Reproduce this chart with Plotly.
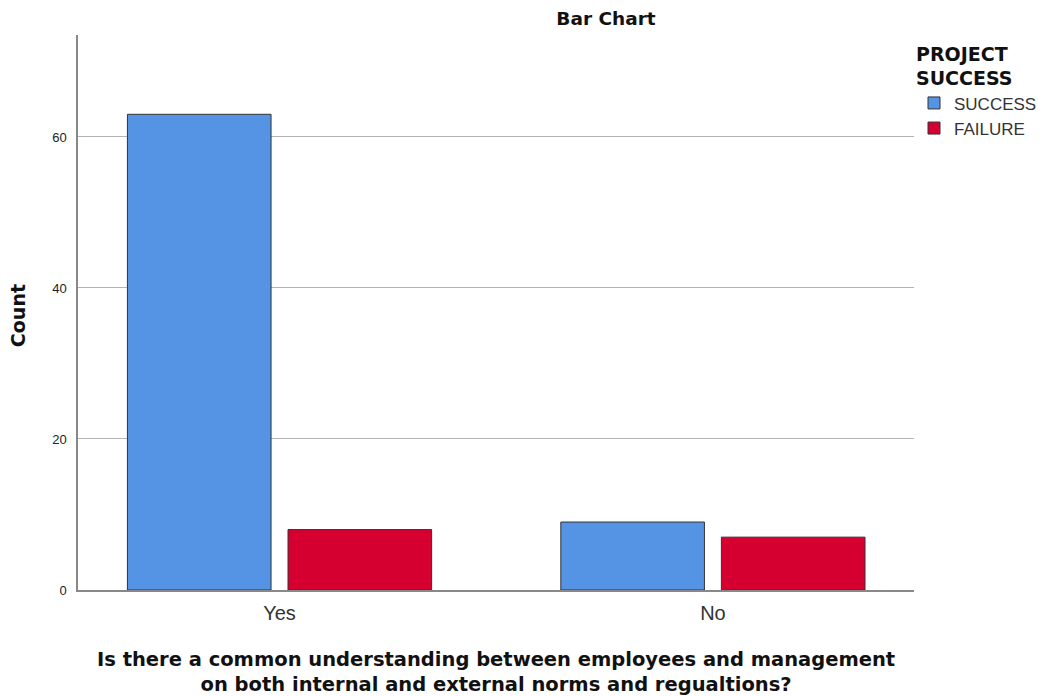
import plotly.graph_objects as go

categories = ["Yes", "No"]
series_names = ["SUCCESS", "FAILURE"]
success_counts = [63, 9]
failure_counts = [8, 7]
y_ticks = [0, 20, 40, 60]
colors = ["#5594E4", "#D50030"]

fig = go.Figure()
for name, vals, col in zip(series_names, [success_counts, failure_counts], colors):
    fig.add_trace(go.Bar(
        x=categories, y=vals, name=name,
        marker=dict(color=col, line=dict(color="#333333", width=1)),
    ))

reg = "Liberation Sans, Arial, sans-serif"
bold = "DejaVu Sans, Verdana, sans-serif"
W, H = 1037, 688
fig.update_layout(
    width=W, height=H,
    margin=dict(l=70, r=129, t=27, b=106),
    paper_bgcolor="white", plot_bgcolor="white",
    barmode="group", bargap=0.259, bargroupgap=0.1056,
    font=dict(family=reg, color="#222222"),
    title=dict(text="<b>Bar Chart</b>", xref="container", x=598 / W, xanchor="center",
               yref="container", y=1 - 11 / H, yanchor="middle",
               font=dict(size=18.5, color="#111111", family=bold)),
    showlegend=True,
    legend=dict(
        xref="container", yref="container",
        x=906 / W, xanchor="left", y=1 - 28 / H, yanchor="top",
        title=dict(text="<b>PROJECT<br>SUCCESS</b>", font=dict(size=19, color="#111111", family=bold), side="top"),
        font=dict(size=17, color="#333333", family=reg),
        tracegroupgap=0, itemwidth=30,
    ),
    xaxis=dict(
        range=[-0.465, 1.464],
        showgrid=False, showline=True, linecolor="#888888", linewidth=1.5,
        ticks="", tickfont=dict(size=20, color="#333333"), automargin=False,
        ticklabelstandoff=4,
    ),
    yaxis=dict(
        range=[0, 73.5], tickvals=y_ticks, showgrid=True, gridcolor="#B4B4B4", gridwidth=1,
        showline=True, linecolor="#888888", linewidth=1.5, zeroline=False,
        ticks="", tickfont=dict(size=13, color="#222222"), automargin=False,
        ticklabelstandoff=7,
    ),
    annotations=[
        dict(text="<b>Is there a common understanding between employees and management<br>on both internal and external norms and regualtions?</b>",
             xref="paper", yref="paper", x=0.5, y=-0.1486, xanchor="center", yanchor="middle",
             showarrow=False, font=dict(size=19.5, color="#111111", family=bold)),
        dict(text="<b>Count</b>", xref="paper", yref="paper", x=-0.0716, y=0.4937,
             xanchor="center", yanchor="middle", textangle=-90,
             showarrow=False, font=dict(size=19, color="#111111", family=bold)),
    ],
)

fig.write_html("out.html")
